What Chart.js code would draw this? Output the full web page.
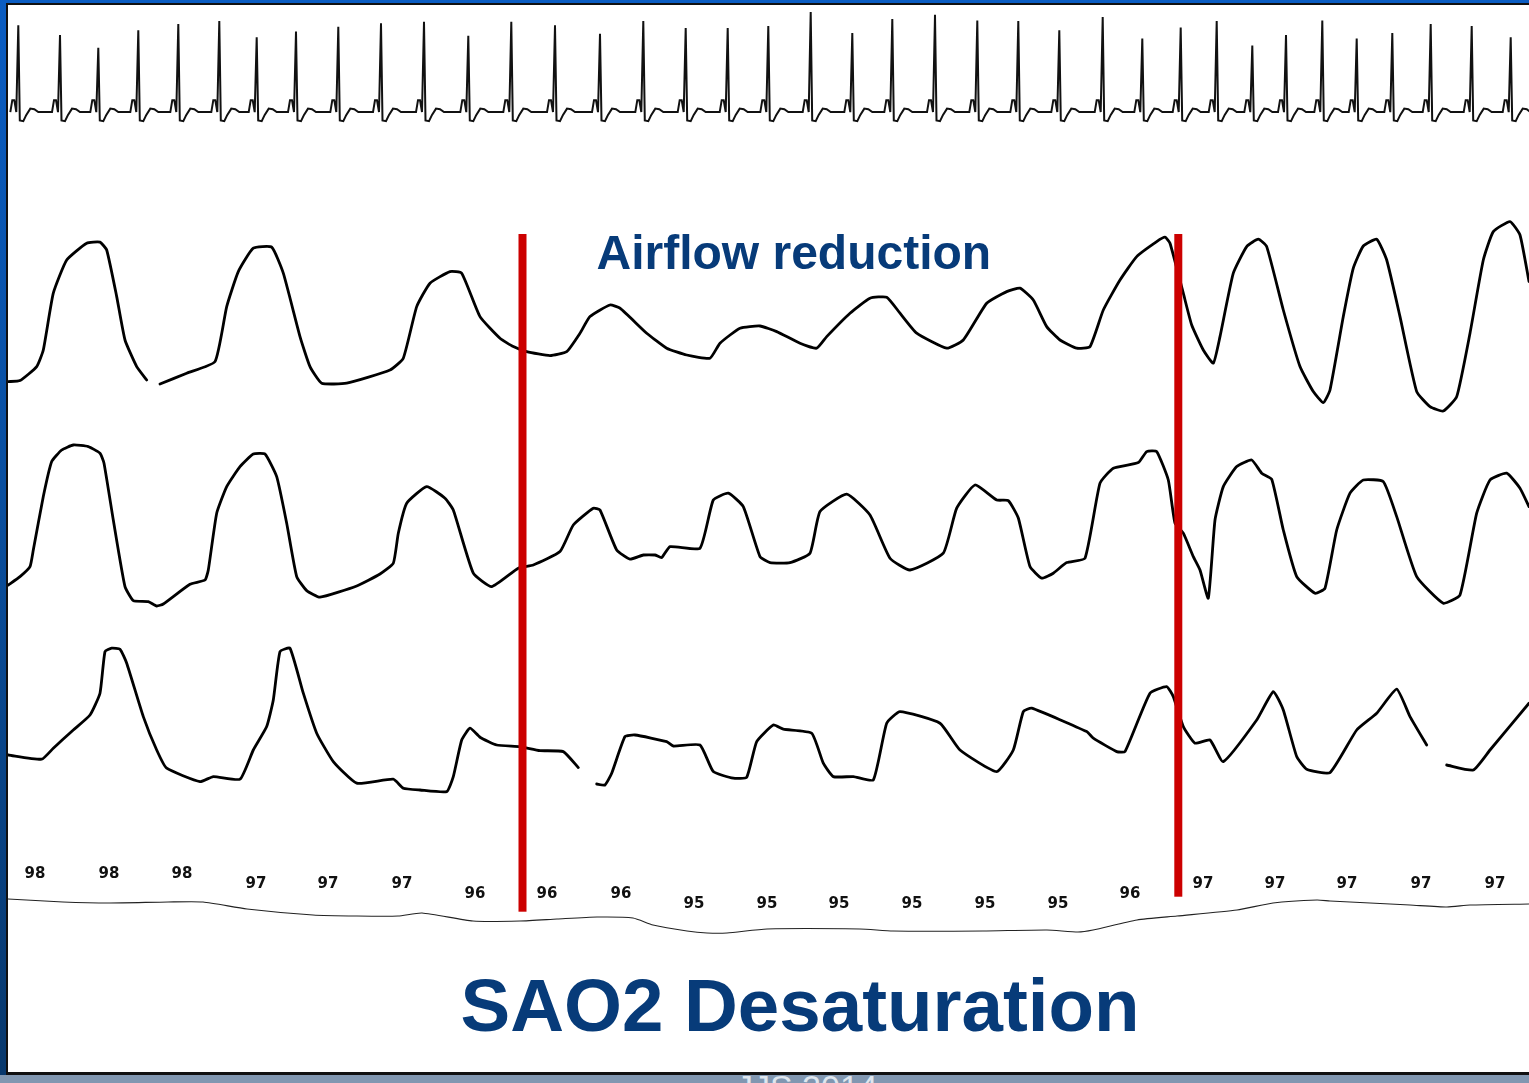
<!DOCTYPE html>
<html>
<head>
<meta charset="utf-8">
<title>Airflow reduction - SAO2 Desaturation</title>
<script src="https://cdn.jsdelivr.net/npm/chart.js@4.4.0/dist/chart.umd.min.js"></script>
<style>
  html, body { margin: 0; padding: 0; }
  body {
    width: 1529px; height: 1083px; overflow: hidden; position: relative;
    background: linear-gradient(to bottom, #0b5dc2 0%, #0a4f9f 45%, #08386c 100%);
    font-family: 'Liberation Sans', Arial, sans-serif;
  }
  #panel {
    position: absolute; left: 6px; top: 3px; width: 1540px; height: 1072px;
    box-sizing: border-box; background: #fff;
    border: 2px solid #111; border-bottom-width: 3px;
  }
  #trace { position: absolute; left: 0; top: 0; }
  .caption { position: absolute; white-space: nowrap; color: #073b79; font-weight: bold; line-height: 1; }
  #airflow { left: 596.5px; top: 228.7px; font-size: 48px; }
  #desat { left: 460.5px; top: 968.6px; font-size: 74.5px; }
  #footer { position: absolute; left: 0; top: 1075px; width: 1529px; height: 8px; background: #8197b1; overflow: hidden; }
  #footer span { position: absolute; left: 736px; top: -5px; font-size: 34px; line-height: 1; color: #dfe6ee; }
</style>
</head>
<body>
<div id="panel">
  <canvas id="trace" width="1521" height="955"></canvas>
</div>
<div class="caption" id="airflow">Airflow reduction</div>
<div class="caption" id="desat">SAO2 Desaturation</div>
<div id="footer"><span>JJS 2014</span></div>

<script>
// time axis in seconds
const timeMax = 152.1

const ecgBeatTimes = [1.03, 5.2, 9.03, 13.03, 17.03, 21.13, 24.87, 28.8, 33.03, 37.3, 41.6, 46.03, 50.33,
  54.7, 59.2, 63.53, 67.77, 71.97, 76.03, 80.27, 84.43, 88.43, 92.7, 96.93, 101.03, 105.13, 109.47,
  113.43, 117.27, 120.87, 124.43, 127.8, 131.43, 134.87, 138.43, 142.27, 146.37, 150.27]
const ecgBeatHeights = [1.24, 1.10, 0.92, 1.17, 1.26, 1.30, 1.07, 1.15, 1.22, 1.27, 1.29, 1.09, 1.29,
  1.24, 1.12, 1.30, 1.20, 1.20, 1.23, 1.43, 1.13, 1.33, 1.39, 1.31, 1.30, 1.17, 1.36,
  1.05, 1.21, 1.30, 0.95, 1.10, 1.31, 1.05, 1.13, 1.26, 1.23, 1.07]
const ecgWaveOffsets = [-0.8, -0.6, -0.4, -0.2, 0, 0.15, 0.5, 0.8, 1.2, 1.6, 2.0]
const ecgWaveLevels = [0, 0.17, 0.17, 0, 'R', -0.12, -0.13, -0.04, 0.05, 0.04, 0]

// airflow channel 1 (a.u.)
const flow1Time = [0.03, 1.2, 2.87, 3.53, 4.53, 5.87, 7.87, 9.2, 9.87, 10.87, 11.7, 12.87, 13.87, 14.5,
  15.2, 17.87, 20.7, 21.87, 23.03, 24.53, 26.37, 27.53, 29.2, 30.2, 31.37, 33.87, 38.2, 39.53, 40.87,
  42.2, 44.2, 45.37, 47.2, 49.2, 50.53, 51.87, 54.2, 55.87, 57.2, 58.2, 60.2, 61.2, 63.87, 65.87,
  67.87, 70.2, 71.2, 73.2, 75.2, 76.87, 79.2, 80.87, 81.87, 84.2, 86.2, 87.87, 89.2, 90.87, 93.87,
  95.53, 97.87, 99.87, 101.2, 102.53, 103.87, 105.2, 106.87, 108.2, 109.53, 111.2, 112.87, 114.87,
  115.7, 116.2, 117.53, 118.37, 119.53, 120.53, 121.2, 122.53, 123.87, 125.03, 125.87, 127.53, 129.2,
  130.53, 131.53, 132.2, 133.53, 134.53, 135.53, 136.87, 137.87, 139.2, 140.87, 142.2, 143.53, 144.87,
  146.2, 147.53, 148.53, 150.2, 151.2, 152.1]
const flow1Value = [24.2, 24.7, 31.7, 40, 68.4, 85, 93.4, 93.9, 90, 66.7, 45, 31.7, 25, null,
  23, 28.4, 34.2, 61.7, 79.2, 90.9, 91.4, 78.4, 46.7, 31.7, 23.4, 23.4, 30, 35.9, 61.7,
  73.4, 79.2, 78.4, 56.7, 45.9, 41.7, 39.2, 37.2, 39.2, 48.4, 56.7, 62.5, 60.9, 48.4, 40.9,
  37.5, 35.9, 43.4, 50.9, 52, 49.2, 43.4, 40.9, 46.7, 58.4, 65.9, 66.4, 58.4, 48.4, 40.9,
  45, 63.4, 69.2, 70.9, 65, 51.7, 45, 40.9, 41.7, 60, 75, 86.7, 94.2,
  96.4, 93.4, 68.4, 52.5, 40, 33.4, 46.7, 78.4, 91.7, 95.4, 91.7, 60, 31.7,
  19.2, 13.7, 20, 56.7, 80.9, 92, 95.4, 85, 56.7, 19.2, 11.7, 9.5, 16.7,
  48.4, 85, 99.2, 104.2, 97.5, 74.2]

// airflow channel 2 (a.u.)
const flow2Time = [0.03, 1.2, 2.2, 2.53, 3.53, 4.37, 5.37, 6.53, 8.03, 9.2, 9.6, 10.53, 11.7, 12.53,
  14.03, 14.87, 15.53, 18.2, 19.7, 20.03, 20.87, 21.87, 23.2, 24.53, 25.7, 26.87, 27.87, 28.87, 29.87,
  31.2, 34.87, 37.2, 38.53, 39.03, 39.87, 41.87, 43.7, 44.53, 46.53, 48.37, 51.03, 52.53, 55.2, 56.53,
  58.53, 59.2, 60.87, 62.2, 63.53, 64.7, 65.37, 66.2, 69.2, 70.53, 72.03, 73.53, 75.2, 76.2, 78.2,
  80.2, 81.2, 83.87, 86.2, 88.2, 90.2, 93.53, 94.87, 96.7, 98.87, 100.03, 101.03, 102.2, 103.37,
  104.53, 105.87, 107.7, 109.2, 110.53, 113.03, 113.87, 114.87, 116.03, 116.7, 117.53, 118.53, 119.2,
  120.03, 120.7, 121.53, 122.87, 124.37, 125.37, 126.37, 127.53, 128.87, 130.7, 131.7, 132.87, 134.2,
  135.53, 137.53, 138.87, 140.87, 143.53, 145.2, 146.87, 148.2, 149.87, 151.2, 152.1]
const flow2Value = [22.5, 26.7, 31.7, 40, 66.7, 84.2, 90, 92.5, 91.7, 88.4, 83.4, 55, 21.7, 14.7,
  14.2, 12, 13, 22.9, 25, 30, 58.4, 71.7, 81.7, 88, 88, 76.7, 53.4, 26.7, 19.7,
  16.4, 22, 28, 33.4, 48.4, 63.4, 71.7, 65.9, 60, 28.4, 21.7, 30.9, 32.5, 39.2, 52.5,
  60.9, 60, 40, 35.4, 37.5, 37.5, 36.2, 41.7, 40.9, 65, 68.4, 61.7, 36.7, 33.7, 33.7,
  38.4, 59.2, 67.9, 57.5, 35.9, 30, 38.4, 60.9, 72.5, 65, 64.7, 56, 31.7, 25.9,
  28.4, 33.7, 35.9, 73.4, 80.9, 83.7, 89.2, 89.2, 75, 53.4, 48.4, 36.7, 30,
  15.9, 55, 71.7, 81.7, 85, 78.4, 75.4, 50, 26.7, 18.4, 20.9, 50, 68.4,
  75, 74.2, 56.7, 26.7, 13.4, 17.5, 58.4, 75, 78.4, 70.9, 61.7]

// airflow channel 3 (a.u.)
const flow3Time = [0.03, 3.37, 4.53, 6.53, 8.2, 9.2, 9.7, 10.37, 11.2, 11.87, 13.53, 14.87, 15.87,
  19.2, 20.53, 23.2, 24.53, 25.87, 26.53, 27.2, 28.2, 29.53, 30.87, 32.53, 34.87, 38.53, 39.53, 41.2,
  43.87, 44.53, 45.37, 46.2, 47.2, 48.87, 51.2, 53.2, 55.53, 57.03, 58.0, 58.87, 59.7, 60.37, 61.7,
  62.7, 65.87, 66.53, 69.2, 70.53, 72.53, 73.87, 74.87, 76.53, 77.53, 80.37, 81.53, 82.53, 84.53,
  86.53, 87.87, 89.2, 93.2, 95.2, 98.87, 100.53, 101.53, 102.37, 107.87, 108.53, 110.87, 111.7,
  114.2, 115.87, 116.53, 117.53, 118.7, 120.2, 121.53, 124.87, 126.53, 127.53, 128.87, 129.87, 132.2,
  134.87, 136.87, 138.87, 140.2, 141.87, 143.5, 143.87, 146.53, 148.2, 152.1]
const flow3Value = [37.5, 35.4, 40.9, 50, 57.5, 68.4, 89.2, 90.9, 90.4, 83.4, 56.7, 40, 30.9,
  24.2, 26.7, 25.4, 40, 51.7, 65, 89.2, 90.9, 68.4, 48.4, 34.2, 23.4, 25.4, 20.9, 20,
  19.2, 26.7, 45, 50.9, 46.4, 42.5, 41.7, 39.7, 39.2, 31.2, null, 23, 22.5, 28.4, 46.7,
  47.5, 44.2, 42, 42.5, 29.2, 25.9, 26.4, 44.2, 52.5, 50.4, 48.4, 33.4, 26.7, 26.7,
  25, 53.4, 59.2, 53.4, 40, 29.2, 40, 59.2, 60.9, 49.2, 45.9, 39.2, 39.2,
  68.4, 71.7, 66.7, 51.7, 43.4, 45, 34.2, 55, 69.2, 60, 36.7, 30.4, 28.7,
  50, 58.4, 70.4, 56.7, 42.5, null, 32.5, 30, 40, 63.4]

// oxygen saturation (%)
const satTime = [0, 5.5, 10.2, 16.0, 19.5, 23.9, 30.5, 34.9, 39.0, 41.4, 46.5, 51.2, 54.9, 58.9, 62.5,
  64.5, 67.9, 69.9, 71.9, 75.9, 85.2, 88.5, 97.5, 103.9, 107.0, 108.5, 112.9, 116.9, 122.9, 126.5,
  130.9, 132.2, 136.2, 140.2, 143.9, 146.2, 152.1]
const satValue = [98.1, 97.8, 97.7, 97.8, 97.8, 97.1, 96.5, 96.4, 96.4, 96.7, 95.9, 95.9, 96.1, 96.3, 96.2,
  95.5, 94.9, 94.7, 94.7, 95.1, 95.1, 94.9, 94.9, 95.0, 94.8, 95.0, 96.0, 96.4, 97.0, 97.7,
  98.0, 97.9, 97.7, 97.5, 97.3, 97.5, 97.6]
const satLabelTime = [2.7, 10.1, 17.4, 24.8, 32.0, 39.4, 46.7, 53.9, 61.3, 68.6, 75.9, 83.1, 90.4, 97.7,
  105.0, 112.2, 119.5, 126.7, 133.9, 141.3, 148.7]
const satLabelValue = [98, 98, 98, 97, 97, 97, 96, 96, 96, 95, 95, 95, 95, 95, 95, 96, 97, 97, 97, 97, 97]

// start / end of the airflow reduction event
const eventTimes = [51.45, 117.03]
const eventTopFlow = 98
const eventBottomSat = [96.83, 98.33]

const toPoints = (times, values) => times.map((t, i) => ({ x: t, y: values[i] }))

const buildEcg = () => {
  const points = []
  ecgBeatTimes.forEach((tR, b) => {
    ecgWaveOffsets.forEach((dt, k) => {
      const level = ecgWaveLevels[k] === 'R' ? ecgBeatHeights[b] : ecgWaveLevels[k]
      points.push({ x: +(tR + dt).toFixed(2), y: level })
    })
  })
  return points
}

const eventMarks = {
  id: 'eventMarks',
  afterDatasetsDraw(chart) {
    const { ctx, scales } = chart
    const { x, yFlow1, ySat } = scales

    ctx.save()
    ctx.font = 'bold 15px "DejaVu Sans", Verdana, sans-serif'
    ctx.fillStyle = '#111'
    ctx.textAlign = 'center'
    ctx.textBaseline = 'middle'
    satLabelTime.forEach((t, i) => {
      const v = satLabelValue[i]
      ctx.fillText(String(v), x.getPixelForValue(t), ySat.getPixelForValue(v) - 26)
    })

    ctx.fillStyle = '#cc0000'
    eventTimes.forEach((t, i) => {
      const px = x.getPixelForValue(t)
      const top = yFlow1.getPixelForValue(eventTopFlow)
      const bottom = ySat.getPixelForValue(eventBottomSat[i])
      ctx.fillRect(px - 4, top, 8, bottom - top)
    })
    ctx.restore()
  }
}

const traceStyle = {
  borderColor: '#000',
  borderWidth: 2.8,
  pointRadius: 0,
  tension: 0.15,
  borderJoinStyle: 'round',
  borderCapStyle: 'round',
  spanGaps: false,
}

new Chart(document.getElementById('trace'), {
  type: 'line',
  data: {
    datasets: [
      { label: 'ECG', data: buildEcg(), yAxisID: 'yEcg', borderColor: '#111', borderWidth: 2, pointRadius: 0, tension: 0 },
      { label: 'Flow 1', data: toPoints(flow1Time, flow1Value), yAxisID: 'yFlow1', ...traceStyle },
      { label: 'Flow 2', data: toPoints(flow2Time, flow2Value), yAxisID: 'yFlow2', ...traceStyle },
      { label: 'Flow 3', data: toPoints(flow3Time, flow3Value), yAxisID: 'yFlow3', ...traceStyle },
      { label: 'SaO2', data: toPoints(satTime, satValue), yAxisID: 'ySat', borderColor: '#222', borderWidth: 1.1, pointRadius: 0, tension: 0.2 },
    ],
  },
  options: {
    responsive: false,
    animation: false,
    events: [],
    layout: { padding: 0 },
    plugins: { legend: { display: false }, tooltip: { enabled: false } },
    scales: {
      x: { type: 'linear', min: 0, max: timeMax, display: false },
      yEcg: { position: 'right', stack: 'traces', stackWeight: 147, min: -0.57, max: 1.53, display: false },
      yFlow1: { position: 'right', stack: 'traces', stackWeight: 278, min: 0, max: 139, display: false },
      yFlow2: { position: 'right', stack: 'traces', stackWeight: 200, min: 0, max: 100, display: false },
      yFlow3: { position: 'right', stack: 'traces', stackWeight: 200, min: 0, max: 100, display: false },
      ySat: { position: 'right', stack: 'traces', stackWeight: 130, min: 92, max: 105, display: false },
    },
  },
  plugins: [eventMarks],
})
</script>
</body>
</html>
